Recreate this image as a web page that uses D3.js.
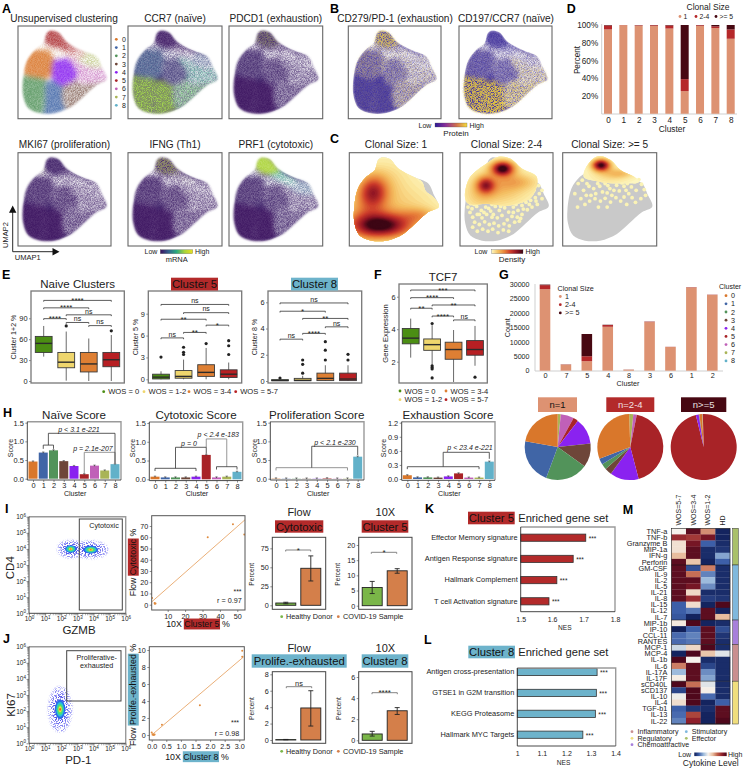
<!DOCTYPE html>
<html><head><meta charset="utf-8">
<style>html,body{margin:0;background:#fff}svg{display:block}text{font-family:"Liberation Sans",Arial,sans-serif;fill:#222}</style>
<script src="https://cdn.jsdelivr.net/npm/d3@7"></script></head><body>
<svg id="c" width="747" height="768" viewBox="0 0 747 768"></svg>
<script>
// ---------- DATA ----------
const clusterIds=[0,1,2,3,4,5,6,7,8];
const clusterColors=['#d9772b','#4065a6','#52935a','#6e4639','#8a22f0','#a82327','#c060b8','#a9b457','#62b1c9'];
const umapOutline=[[150,92],[175,97],[200,125],[245,150],[290,170],[305,200],[320,238],[290,255],[250,290],[215,320],[165,340],[120,340],[85,325],[70,290],[68,250],[80,185],[105,150],[130,130],[140,100]];
const c1Coverage=[[150,92],[175,97],[200,125],[245,150],[272,165],[282,192],[305,210],[322,238],[290,255],[250,290],[215,320],[165,340],[120,340],[85,325],[70,290],[68,250],[80,185],[105,150],[130,130],[140,100]];
const c2Coverage=[[134,110],[169,90],[204,95],[239,125],[284,150],[269,210],[204,235],[134,230],[79,230],[69,210],[79,160],[99,135]];
const c3Coverage=[[131,110],[161,88],[196,100],[226,130],[266,150],[281,165],[226,170],[166,165],[116,150]];
const regionPolys=[
 [[70,175],[105,145],[150,150],[165,180],[160,215],[135,238],[100,232],[65,215]],
 [[135,250],[160,242],[190,262],[198,325],[165,345],[125,345],[130,290]],
 [[60,230],[100,232],[135,240],[135,255],[125,345],[85,335],[60,290]],
 [[190,262],[225,240],[280,250],[325,238],[265,285],[215,325],[198,325]],
 [[165,175],[205,170],[232,215],[225,240],[190,258],[160,240],[155,210]],
 [[135,88],[165,85],[195,110],[205,135],[175,145],[145,138],[125,120]],
 [[205,170],[232,178],[265,200],[310,200],[325,238],[280,250],[232,245],[232,215]],
 [[220,150],[255,158],[300,170],[310,200],[265,200],[232,178]],
 [[120,128],[130,125],[128,142]],
 [[105,145],[125,125],[150,142],[190,155],[235,172],[205,170],[165,175],[150,150]],
 [[195,110],[220,142],[255,165],[235,172],[190,155],[175,145],[205,135]]
];
const sparseClusters=[.2,.25,.25,.6,.2,.3,.7,.8,.3,.9,.55];
const sparseGene=[.22,.08,.08,.42,.3,.15,.62,.72,.4,.85,.62];
const exprCCR7=[.3,.82,.82,.7,.14,.02,.55,.28,.1,.12,.03];
const exprPDCD1=[.06,.01,.01,.05,.05,.05,.05,.05,.05,.05,.04];
const exprMKI67=[.04,.01,.01,.04,.04,.04,.04,.04,.1,.04,.04];
const exprIFNG=[.04,.01,.01,.04,.04,.04,.04,.04,.04,.04,.04];
const exprPRF1=[.05,.01,.01,.05,.05,.86,.05,.3,.3,.1,.55];
const grainCCR7=[.25,.4,.4,.55,0,0,.5,.3,0,0,0];
const grainPDCD1=[0,0,0,0,0,.35,0,0,0,0,0];
const grainMKI67=[0,0,0,0,0,0,0,0,.8,0,0];
const grainIFNG=[0,0,0,0,0,.55,0,0,0,0,.15];
const protPD1=[.34,.12,.12,.5,.3,.85,.5,.4,.3,.5,.35];
const protCCR7=[.12,1,.95,.85,.15,.03,.7,.25,.1,.2,.05];
const peaksC1=[[151,295,66,27,1],[126,195,30,34,.62],[95,250,40,60,.2],[170,150,50,40,.13],[266,265,36,16,.24],[200,230,85,42,.17]];
const peaksC2=[[182,125,23,15,1],[131,175,19,17,.62],[230,165,42,16,.17],[170,180,65,38,.28],[110,215,32,26,.1]];
const peaksC3=[[168,115,18,12,1],[225,140,30,10,.2],[190,145,42,20,.13]];
const dotsC2=[[90,245],[104,238],[118,250],[131,240],[146,252],[160,238],[172,250],[188,242],[200,255],[214,240],[228,250],[240,235],[252,226],[266,220],[280,212],[292,200],[300,215],[286,232],[270,240],[256,248],[240,262],[226,270],[210,268],[196,278],[180,265],[166,272],[150,270],[134,262],[120,272],[106,262],[92,270],[84,256],[98,285],[112,292],[128,284],[142,292],[156,288],[170,296],[186,290],[202,296],[218,285],[232,282],[92,300],[106,312],[122,306],[138,312],[152,306],[168,316],[184,308],[200,312],[86,230],[266,200],[248,210],[276,190],[290,176],[254,195],[230,222],[206,226],[180,228],[150,232],[300,190],[274,170],[78,240],[96,232],[112,262],[126,256],[140,244],[154,262],[176,238],[194,230],[222,232],[244,246],[262,232],[282,222],[214,256],[236,274]];
const dotsC3=[[116,190],[124,205],[132,178],[146,185],[152,200],[164,178],[172,195],[180,170],[194,185],[200,205],[214,175],[222,192],[236,178],[246,170],[258,180],[268,165],[280,158],[272,190],[288,172],[300,205],[296,188],[250,200],[236,210],[226,222],[212,212],[196,225],[180,214],[166,222],[150,215],[134,222],[120,232],[108,215],[98,240],[160,240],[186,240],[244,232],[270,226],[90,200],[100,170],[112,160],[138,205],[206,190],[260,212],[286,215],[126,170],[158,170],[188,176],[230,168],[242,190],[186,198]];
const clonalLabels=['1','2-4','>= 5'];
const clonalColors=['#dd9272','#b5282a','#470812'];
const dClonal=[[95,4.5,.5],[99.8,.2,0],[99.3,.5,.2],[99,.8,.2],[96,3.5,.5],[25.5,13.5,61],[99,.8,.2],[96.5,2,1.5],[84.5,10.5,5]];
const wosLabels=['WOS = 0','WOS = 1-2','WOS = 3-4','WOS = 5-7'];
const wosColors=['#4b8e13','#efd66d','#de7f33','#b71f23'];
const naiveBox=[[35,41,54,64,79],[0.5,19,27,41,71],[0,13,24.5,41,61],[0,20.5,30.5,41,66]];
const naiveOut=[[],[79],[],[72]];
const naiveBr=[[0,3,'****',115.7],[0,2,'****',105],[1,3,'ns',95],[0,1,'****',89.5],[1,2,'ns',84],[2,3,'ns',79.5]];
const c5Box=[[0,.05,.3,.7,1.1],[0,.15,.4,1.2,2.7],[0,.4,.95,2,4.3],[0,.25,.7,1.3,2.3]];
const c5Out=[[3.05],[4.4,3.7,3.4],[4.9],[5.3,4.6,3.4]];
const c5Br=[[0,3,'ns',10.27],[1,3,'ns',9.14],[0,2,'**',8.24],[0,1,'ns',5.68],[1,2,'**',6.43],[2,3,'*',7.43]];
const c8Box=[[0,.02,.04,.1,.1],[0,.02,.05,.2,.4],[0,.03,.2,.6,1.2],[0,.03,.15,.6,1.2]];
const c8Out=[[.23],[.6,1.27,1.6],[1.6,2.35,3],[1.6,2.03]];
const c8Br=[[0,3,'ns',5.95],[0,2,'*',5.32],[1,3,'**',4.77],[1,2,'****',3.63],[2,3,'ns',4.13],[0,1,'ns',3.19]];
const tcfBox=[[2.25,3.1,3.45,4.04,4.65],[1.8,2.7,3.05,3.4,4.25],[.7,2.15,2.75,3.2,3.95],[1.75,2.4,2.75,3.3,4.2]];
const tcfOut=[[],[4.35,1.75,1.65,1.55,1],[],[1.05]];
const tcfBr=[[0,3,'***',6.41],[0,2,'****',5.94],[1,3,'**',5.49],[0,1,'**',5.29],[1,2,'****',4.81],[2,3,'ns',4.57]];
const gOrder=[0,7,5,4,8,3,6,1,2];
const gCounts=[[28200,1400,200],[2100,60,40],[3300,1700,7700],[15200,600,100],[350,30,20],[16800,150,50],[8200,50,10],[28800,100,20],[26200,80,20]];
const pieClusters=[7,6,5,4,3,2,1,0];
const pieN1=[1.5,6.5,2.5,12.8,11.7,20.8,22.2,22.2];
const pieN2=[2,1.7,42.5,14,3.4,2.8,3,30];
const pieN3=[.3,.1,96.6,1.4,.1,.1,.1,1.3];
const naiveScore=[.46,.70,.76,.47,.34,.12,.35,.22,.39];
const cytoScore=[.07,.05,.05,.05,.07,.65,.05,.07,.2];
const prolifScore=[.008,.005,.005,.005,.005,.012,.005,.006,.59];
const exhScore=[.08,.035,.035,.03,.055,.12,.03,.03,.37];
const h1Links=[[[1.5,.9],[1.5,1.216],[8,1.216],[8,.42]],[[1,.8],[1,.9],[2,.9],[2,.8]]];
const h1Grey=[[[5,.14],[5,.707],[8,.707],[8,.42]]];
const h2Links=[[[0,.22],[0,.293],[4,.293],[4,.22]],[[2,.293],[2,.853],[5,.853],[5,.68]],[[6,.26],[6,.336],[8,.336],[8,.26]]];
const h2Grey=[[[5,.853],[5,1.075],[7,1.075],[7,.336]]];
const h3Links=[[[3.5,.295],[3.5,.868],[8,.868],[8,.63]]];
const h3Grey=[[[0,.22],[0,.295],[7,.295],[7,.22]]];
const h4Links=[[[0,.21],[0,.262],[7,.262],[7,.21]],[[3.5,.262],[3.5,.569],[8,.569],[8,.43]]];
const flowBlobsI=[[2.59,3.99,.62,.42],[3.83,3.95,.8,.42]];
const flowBlobsJ=[[1.93,2.11,.55,1.05]];
const scatterI=[[3,1],[2.5,1.5],[1,6],[33,60],[47.5,71.5],[54,62.5],[2.6,.8]];
const fitI=[[.8,2.5],[54.4,75.5]];
const scatterJ=[[.05,0],[.1,.05],[0,.3],[.03,.1],[.35,1.2],[1.65,3.5],[3.1,9.9],[3.1,9.2],[.08,.02]];
const fitJ=[[0,0],[3.15,9.2]];
const donorLabels=['Healthy Donor','COVID-19 Sample'];
const donorColors=['#7ab648','#d47f4a'];
const flowCyto=[3,48.7],flowCytoErr=[[2,4],[32,65]];
const tenX5=[6,11.5],tenX5Err=[[4,8],[10.7,12.2]];
const flowProl=[.05,3.9],flowProlErr=[[.03,.07],[1.7,6]];
const tenX8=[.6,2.8],tenX8Err=[[.4,.85],[2.45,3.1]];
const kTerms=['Effector Memory signature','Antigen Response signature','Hallmark Complement','T cell Activation signature'];
const kNES=[1.707,1.667,1.615,1.59];
const lTerms=['Antigen cross-presentation','GTSE1 in G2M transition','KEGG Proteasome','Hallmark MYC Targets'];
const lNES=[1.325,1.322,1.318,1.267];
const hmCols=['WOS=5-7','WOS=3-4','WOS=1-2','HD'];
const hmRows=['TNF-a','TNF-b','Granzyme B','MIP-1a','IFN-g','Perforin','GM-CSF','IL-9','IL-2','IL-5','IL-21','IL-8','IL-15','IL-12','IL-7','MIP-1b','IP-10','CCL-11','RANTES','MCP-1','MCP-4','IL-1b','IL-6','IL-17A','IL-17F','sCD40L','sCD137','IL-10','IL-4','TGF-b1','IL-13','IL-22'];
const hmValues=[[0,.95,.45,-.95],[.8,.75,.9,-.95],[.1,.9,-.6,-.9],[.1,.95,-.9,-.85],[.3,.95,-.9,-.3],[.95,.25,-.95,-.6],[.95,-.7,.5,-.9],[.95,.55,-.45,-.9],[.95,.95,-.2,-.9],[.95,.9,-.4,-.9],[.95,.15,-.9,-.9],[.95,.8,-.8,-.85],[-.6,.12,-.95,.98],[-.6,-.5,.95,-.95],[-.65,-.95,.95,.3],[.05,.98,-.95,-.9],[-.98,-.6,.95,-.7],[-.55,-.45,.95,-.85],[-.55,-.5,.95,-.9],[-.1,.15,.98,-.9],[-.95,.98,.25,-.05],[.98,0,-.9,-.9],[.5,.95,-.75,-.9],[-.2,.95,-.4,-.9],[.03,.95,-.3,-.9],[.98,.55,-.05,-.9],[-.75,.98,.02,-.9],[-.02,.98,-.55,-.9],[.12,.98,-.95,-.6],[-.6,-.85,-.9,.95],[-.55,.7,-.95,.95],[-.45,.85,-.95,.98]];
const hmGroups=[['Effector',0,6,'#a9c06a'],['Stimulatory',6,15,'#7fb8dd'],['Chemoattractive',15,19,'#a77fdb'],['Inflammatory',19,25,'#c98f8f'],['Regulatory',25,32,'#f0de7d']];

// ---------- HELPERS ----------
const svg=d3.select('#c'),defs=svg.append('defs');
const RED='#b32a2a',TEAL='#6db3cb';
function txt(g,x,y,s,o={}){const t=g.append('text').attr('x',x).attr('y',y).text(s).style('font-size',(o.size||7)+'px').attr('text-anchor',o.a||'start');
 if(o.w)t.style('font-weight',o.w);if(o.i)t.style('font-style','italic');if(o.f)t.style('fill',o.f);if(o.rot!=null)t.attr('transform',`rotate(${o.rot} ${x} ${y})`);return t;}
function grad(id,cols){const g=defs.append('linearGradient').attr('id',id);cols.forEach((c,i)=>g.append('stop').attr('offset',i/(cols.length-1)).attr('stop-color',c));}
function filt(id,inner){const f=defs.append('filter').attr('id',id).attr('x','-20%').attr('y','-20%').attr('width','140%').attr('height','140%').attr('color-interpolation-filters','sRGB');f.html(inner);}
filt('b3','<feGaussianBlur stdDeviation="2.6"/>');filt('b1','<feGaussianBlur stdDeviation="1"/>');filt('b06','<feGaussianBlur stdDeviation=".5"/>');
const spk=(sd,seed,k,t,fr,end)=>`<feGaussianBlur in="SourceGraphic" stdDeviation="${sd}" result="b"/><feTurbulence type="fractalNoise" baseFrequency="${fr}" numOctaves="1" seed="${seed}" result="n"/><feColorMatrix in="n" type="matrix" values="0 0 0 0 0 0 0 0 0 0 0 0 0 0 0 ${k} 0 0 0 ${t}" result="m"/><feComposite in="b" in2="m" operator="in"/><feGaussianBlur stdDeviation="${end}"/>`;
filt('spkW',spk(2.4,3,2.6,-.8,1.3,.5));filt('spkD',spk(2,11,4,-1.25,1.2,.45));filt('spkF',spk(.8,5,8,-3.8,.9,.25));
filt('solidW','<feGaussianBlur stdDeviation="2.6"/>');
grad('gMrna',['#3a0f5e','#35608d','#2aa87f','#a8d33a','#e8e020']);
grad('gProt',['#2a1a96','#8a2f9a','#d0704f','#f5dc3c']);
grad('gDens',['#fdf6c0','#f4c163','#e8853a','#cc3b2a','#8f1424','#3d0614']);
grad('gCyto',['#0e1c55','#3d5fa8','#9dbbdc','#f6f2ec','#e8bd9e','#bf5f48','#8e1f2b','#45051a']);
const mrnaRamp=d3.scaleLinear().domain([0,.35,.6,.85,1]).range(['#3a0f5e','#35608d','#2aa87f','#a8d33a','#e8e020']);
const densRamp=d3.scaleLinear().domain([0,.1,.25,.45,.65,.85,1]).range(['#fdf6c0','#fbe498','#f4bd60','#e8813a','#cc3b2a','#8f1424','#3d0614']);
const hmRamp=d3.scaleLinear().domain([-1,-.6,-.2,0,.3,.6,.85,1]).range(['#0e1c55','#3d5fa8','#9dbbdc','#f6f2ec','#e8bd9e','#bf5f48','#8e1f2b','#45051a']);
function box(g,x0,y0,x1,y1,col,w){g.append('rect').attr('x',x0).attr('y',y0).attr('width',x1-x0).attr('height',y1-y0).attr('fill','none').attr('stroke',col).attr('stroke-width',w);}
function lr(g,x0,y0,x1,y1){
 g.append('path').attr('d',`M${x0},${y0}H${x1}V${y1}`).attr('fill','none').attr('stroke','#9a9a9a').attr('stroke-width',1.4);
 g.append('path').attr('d',`M${x0},${y0}V${y1}H${x1}`).attr('fill','none').attr('stroke','#333').attr('stroke-width',.9);}
function styleAxis(a,size){a.select('.domain').remove();a.selectAll('line').attr('stroke','#444').attr('stroke-width',.6);a.selectAll('text').style('font-size',size+'px');}
function axL(g,s,vals,x,fmt,size=7.4){const a=g.append('g').attr('transform',`translate(${x},0)`).call(d3.axisLeft(s).tickValues(vals).tickSize(2).tickPadding(1.5).tickFormat(fmt||(d=>d)));styleAxis(a,size);return a;}
function axB(g,s,vals,y,fmt,size=7.4){const a=g.append('g').attr('transform',`translate(0,${y})`).call(d3.axisBottom(s).tickValues(vals).tickSize(2).tickPadding(1.5).tickFormat(fmt||(d=>d)));styleAxis(a,size);return a;}
function tag(g,x0,y0,x1,y1,fill,s,size,col){g.append('rect').attr('x',x0).attr('y',y0).attr('width',x1-x0).attr('height',y1-y0).attr('fill',fill);txt(g,(x0+x1)/2,(y0+y1)/2+size*.36,s,{size,a:'middle',f:col||'#111'});}
function mixed(g,x,y,pre,t,post,bg,size,rot){
 const gg=g.append('g').attr('transform',`translate(${x},${y}) rotate(${rot||0})`);
 const tx=txt(gg,0,size*.36,pre+t+post,{size,a:'middle',f:'#111'});
 const n=tx.node(),tot=n.getComputedTextLength(),a=n.getSubStringLength(0,pre.length),b=n.getSubStringLength(pre.length,t.length);
 gg.insert('rect','text').attr('x',-tot/2+a-.5).attr('y',-size*.62).attr('width',b+1).attr('height',size*1.24).attr('fill',bg);}
function legendDot(g,x,y,c,s,size=7,tx){g.append('circle').attr('cx',x).attr('cy',y).attr('r',1.4).attr('fill',c);txt(g,tx==null?x+4.5:tx,y+size*.36,s,{size});}
const closed=d3.line().curve(d3.curveCatmullRomClosed.alpha(.5));
let uid=0;

// ---------- UMAP panels ----------
function umapScales(x0,y0,x1,y1){return {x:d3.scaleLinear().domain([54,333]).range([x0,x1]),y:d3.scaleLinear().domain([78,356]).range([y0,y1])};}
const shape=(s,pts)=>closed(pts.map(p=>[s.x(p[0]),s.y(p[1])]));
function umap(x0,y0,x1,y1,colors,base,sparse,title,grainColor,grainLevels,tx){
 const g=svg.append('g'),s=umapScales(x0,y0,x1,y1),id='m'+(uid++);
 const m=defs.append('mask').attr('id',id).attr('maskUnits','userSpaceOnUse').attr('x',x0).attr('y',y0).attr('width',x1-x0).attr('height',y1-y0);
 m.append('path').attr('d',shape(s,umapOutline)).attr('fill','#fff').attr('filter','url(#b1)');
 const p=g.append('g').attr('mask',`url(#${id})`);
 p.append('path').attr('d',shape(s,umapOutline)).attr('fill',base);
 if(colors){const a=p.append('g').attr('filter','url(#b3)');regionPolys.forEach((r,i)=>a.append('path').attr('d',shape(s,r)).attr('fill',colors[i]));}
 if(grainLevels){const q=p.append('g').attr('filter','url(#spkD)');regionPolys.forEach((r,i)=>q.append('path').attr('d',shape(s,r)).attr('fill',grainColor).attr('opacity',grainLevels[i]));}
 const sw=p.append('g').attr('filter','url(#solidW)');regionPolys.forEach((r,i)=>sw.append('path').attr('d',shape(s,r)).attr('fill','#fff').attr('opacity',sparse[i]*.55));
 const w=p.append('g').attr('filter','url(#spkW)');regionPolys.forEach((r,i)=>w.append('path').attr('d',shape(s,r)).attr('fill','#fff').attr('opacity',sparse[i]));
 box(g,x0,y0,x1,y1,'#666',1.1);
 txt(g,tx==null?(x0+x1)/2:tx,y0-4.5,title,{size:10.1,a:'middle'});
}
const GENE='#43296f',PROT='#3a2a9a',GOLD='#d8b83a',OLIVE='#a8b840';
const umapColors=clusterColors.concat(['#e8d4c0','#a82327']);
const gene=a=>a.map(v=>mrnaRamp(v));
umap(18,26,111,118.7,umapColors,'#fff',sparseClusters,'Unsupervised clustering',null,null,64);
umap(128,26,222,118.7,gene(exprCCR7),GENE,sparseGene,'CCR7 (naïve)',GENE,grainCCR7);
umap(229,26,322.7,118.7,gene(exprPDCD1),GENE,sparseGene,'PDCD1 (exhaustion)',OLIVE,grainPDCD1);
umap(18,152.7,111,246,gene(exprMKI67),GENE,sparseGene,'MKI67 (proliferation)',OLIVE,grainMKI67);
umap(128,152.7,222,246,gene(exprIFNG),GENE,sparseGene,'IFNG (Th1)',OLIVE,grainIFNG);
umap(229,152.7,322.7,246,gene(exprPRF1),GENE,sparseGene,'PRF1 (cytotoxic)');
umap(348.3,26,441,118.7,null,PROT,sparseGene,'CD279/PD-1 (exhaustion)',GOLD,protPD1,395);
umap(459,26,552,118.7,null,PROT,sparseGene,'CD197/CCR7 (naïve)',GOLD,protCCR7,506);
clusterIds.forEach((c,i)=>legendDot(svg,116.3,39.3+i*8.25,clusterColors[c],c,7,122));
svg.append('path').attr('d','M12.7,251.7V210M12.7,251.7H55').attr('fill','none').attr('stroke','#111').attr('stroke-width',.9);
svg.append('path').attr('d','M12.7,205.5L9,212.7H16.4ZM59.5,251.7L52.5,248V255.4Z').attr('fill','#111');
txt(svg,7.5,235,'UMAP2',{size:7.5,a:'middle',rot:-90});txt(svg,27.7,259.5,'UMAP1',{size:7.5,a:'middle'});
function cbar(lowX,x0,x1,y,id,highX,lab,labX,labY){txt(svg,lowX,y+2.5,'Low',{size:7,a:'middle'});
 svg.append('rect').attr('x',x0).attr('y',y-2).attr('width',x1-x0).attr('height',4).attr('fill',`url(#${id})`).attr('stroke','#555').attr('stroke-width',.3);
 txt(svg,highX,y+2.5,'High',{size:7});txt(svg,labX,labY,lab,{size:lab=='mRNA'?7.5:8,a:'middle'});}
cbar(151,160.3,192.7,251.7,'gMrna',195,'mRNA',176.7,262);
cbar(425,435,467,125,'gProt',469.5,'Protein',456,136);
cbar(481,491.7,523,251.7,'gDens',525.5,'Density',512,262);

// ---------- Panel C ----------
function density(x0,y0,x1,y1,peaks,coverage,dots,title){
 const g=svg.append('g'),s=umapScales(x0,y0,x1,y1),id='cl'+(uid++),n=84;
 g.append('path').attr('d',shape(s,umapOutline)).attr('fill','#c9c9c9');
 defs.append('clipPath').attr('id',id).append('path').attr('d',shape(s,coverage));
 (dots||[]).forEach(d=>g.append('circle').attr('cx',s.x(d[0])).attr('cy',s.y(d[1])).attr('r',1.9).attr('fill','#fbf3b5'));
 const c=g.append('g').attr('clip-path',`url(#${id})`);
 c.append('rect').attr('x',x0).attr('y',y0).attr('width',x1-x0).attr('height',y1-y0).attr('fill',densRamp(0));
 const vals=new Float64Array(n*n);
 for(let j=0;j<n;j++)for(let i=0;i<n;i++){const u=54+(i+.5)*279/n,v=78+(j+.5)*278/n;let t=0;peaks.forEach(p=>{t+=p[4]*Math.exp(-((u-p[0])**2/(2*p[2]**2)+(v-p[1])**2/(2*p[3]**2)));});vals[j*n+i]=t;}
 const th=d3.range(.03,1.15,.03),path=d3.geoPath();
 const cg=c.append('g').attr('transform',`translate(${x0},${y0}) scale(${(x1-x0)/n},${(y1-y0)/n})`);
 d3.contours().size([n,n]).thresholds(th)(vals).forEach(ct=>cg.append('path').attr('d',path(ct)).attr('fill',densRamp(Math.min(1,ct.value))));
 box(g,x0,y0,x1,y1,'#666',1.1);
 txt(g,(x0+x1)/2,y0-4.5,title,{size:10.1,a:'middle'});
}
density(349.3,152.7,442.7,246,peaksC1,c1Coverage,null,'Clonal Size: 1');
density(460,152.7,553,246,peaksC2,c2Coverage,dotsC2,'Clonal Size: 2-4');
density(562.7,152.7,656.7,246,peaksC3,c3Coverage,dotsC3,'Clonal Size: >= 5');

// ---------- Panel D ----------
(function(){const g=svg.append('g'),x=d3.scaleLinear().domain([0,8]).range([608,730.7]),y=d3.scaleLinear().domain([0,100]).range([113.75,25]);
 g.append('path').attr('d','M601.7,24V114H737').attr('fill','none').attr('stroke','#cfcfcf').attr('stroke-width',1);
 dClonal.forEach((d,i)=>{let c=0;d.forEach((v,k)=>{g.append('rect').attr('x',x(i)-4).attr('width',8).attr('y',y(c+v)).attr('height',y(c)-y(c+v)).attr('fill',clonalColors[k]);c+=v;});});
 const ay=axL(g,y,[20,40,60,80,100],601.7,d=>d+'%',8.2);ay.selectAll('line').remove();
 const ax=axB(g,x,clusterIds,113.5,null,8.2);ax.selectAll('line').remove();
 txt(g,579.5,60,'Percent',{size:8.2,a:'middle',rot:-90});
 txt(g,672,132,'Cluster',{size:8.4,a:'middle'});
 txt(g,708,10,'Clonal Size',{size:8.5,a:'middle'});
 [[680,'1'],[696,'2-4'],[716,'>= 5']].forEach((e,i)=>legendDot(g,e[0],16.5,clonalColors[i],clonalLabels[i],6.8,e[0]+3.5));
})();

// ---------- Panels E, F ----------
function boxPanel(x0,x1,yT,xr,yd,yr,ticks,stats,outs,brs,ylabel,ylx,lsize){
 const g=svg.append('g'),x=d3.scaleLinear().domain([0,3]).range(xr),y=d3.scaleLinear().domain(yd).range(yr);
 axL(g,y,ticks,x0,null,7.4);
 txt(g,ylx,(yT+383)/2,ylabel,{size:lsize||7.1,a:'middle',rot:-90});
 stats.forEach((b,i)=>{const cx=x(i),f=wosColors[i];
  g.append('line').attr('x1',cx).attr('x2',cx).attr('y1',Math.min(382,y(b[0]))).attr('y2',y(b[4])).attr('stroke','#444').attr('stroke-width',.8);
  g.append('rect').attr('x',cx-8.4).attr('width',16.8).attr('y',y(b[3])).attr('height',Math.max(1,y(b[1])-y(b[3]))).attr('fill',f).attr('stroke','#3a3a3a').attr('stroke-width',.9);
  g.append('line').attr('x1',cx-8.4).attr('x2',cx+8.4).attr('y1',y(b[2])).attr('y2',y(b[2])).attr('stroke','#2b2b2b').attr('stroke-width',1.4);
  outs[i].forEach(v=>g.append('circle').attr('cx',cx).attr('cy',y(v)).attr('r',1.6).attr('fill','#222'));});
 brs.forEach(b=>{const py=y(b[3]);g.append('path').attr('d',`M${x(b[0])},${py+1.3}V${py}H${x(b[1])}V${py+1.3}`).attr('fill','none').attr('stroke','#333').attr('stroke-width',.8);
  txt(g,(x(b[0])+x(b[1]))/2,b[2]=='ns'?py-1.2:py+2.6,b[2],{size:b[2]=='ns'?7:8,a:'middle'});});
 box(g,x0,yT,x1,383,'#777',1.3);
 return g;}
const g1=boxPanel(31,124.3,291,[43.7,111.3],[0,90],[381,318.3],[0,30,60,90],naiveBox,naiveOut,naiveBr,'Cluster 1+2 %',16);
txt(g1,77.7,288,'Naive Clusters',{size:11.5,a:'middle'});
const g2=boxPanel(148.3,241.7,291,[161,228.7],[0,9],[379.3,313.7],[0,3,6,9],c5Box,c5Out,c5Br,'Cluster 5 %',137.5);
tag(g2,171,277.7,218,290.5,RED,'Cluster 5',11.3);
const g3=boxPanel(268,361.7,291,[280,348],[0,6],[381,302.3],[0,2,4,6],c8Box,c8Out,c8Br,'Cluster 8 %',256.5);
tag(g3,291,277.7,338,290.5,TEAL,'Cluster 8',11.3);
const g4=boxPanel(399,487.3,284,[410.7,475],[2,6],[361.7,296.7],[2,4,6],tcfBox,tcfOut,tcfBr,'Gene Expression',388,7.6);
txt(g4,443,281,'TCF7',{size:11.5,a:'middle'});
wosLabels.forEach((l,i)=>legendDot(svg,[103.7,144,189,235.7][i],391.7,wosColors[i],l,7.6));
[[400,391],[400,399.7],[446,391],[446,399.7]].forEach((p,i)=>legendDot(svg,p[0],p[1],wosColors[i],wosLabels[i],7.6));

// ---------- Panel G ----------
(function(){const g=svg.append('g'),x=d3.scalePoint().domain(gOrder).range([545,712.3]),y=d3.scaleLinear().domain([0,30000]).range([370.7,284]);
 g.append('path').attr('d','M535,284V371H723').attr('fill','none').attr('stroke','#cfcfcf').attr('stroke-width',1);
 gOrder.forEach((c,i)=>{let t=0;gCounts[i].forEach((v,k)=>{g.append('rect').attr('x',x(c)-5.3).attr('width',10.6).attr('y',y(t+v)).attr('height',y(t)-y(t+v)).attr('fill',clonalColors[k]);t+=v;});});
 axL(g,y,d3.range(0,30001,5000),533,null,7.1).selectAll('line').remove();
 axB(g,x,gOrder,369,null,7.3).selectAll('line').remove();
 txt(g,510.5,327.7,'Count',{size:7.1,a:'middle',rot:-90});txt(g,628,385.5,'Cluster',{size:7.2,a:'middle'});
 txt(g,557.5,290.5,'Clonal Size',{size:7.2});
 clonalLabels.forEach((l,i)=>legendDot(g,560.3,296.5+i*8.2,clonalColors[i],l,7.2,565));
 txt(g,719,289,'Cluster',{size:7});
 clusterIds.forEach((c,i)=>legendDot(g,726,295.7+i*8.15,clusterColors[c],c,7.2,731));
 const pie=d3.pie().sort(null).value(d=>d),arc=d3.arc().innerRadius(0).outerRadius(33);
 [[557.7,pieN1,0],[630.3,pieN2,-2],[703.7,pieN3,-3]].forEach(p=>{const pg=g.append('g').attr('transform',`translate(${p[0]},447)`);
  pie.startAngle(p[2]*Math.PI/180).endAngle((360+p[2])*Math.PI/180)(p[1]).forEach((a,i)=>pg.append('path').attr('d',arc(a)).attr('fill',clusterColors[pieClusters[i]]));});
 tag(g,538,397.3,577,412,'#dd9272','n=1',9.5);tag(g,606.3,397.3,654.3,412,RED,'n=2-4',9.5,'#f2e2e2');tag(g,681,397.3,726.3,412,'#470812','n>=5',9.5,'#e8e0e0');
})();

// ---------- Panel H ----------
function score(x0,x1,xr,y0,yTop,dMax,ticks,vals,title,tx,lx,links,greys,notes){
 const g=svg.append('g'),x=d3.scaleLinear().domain([0,8]).range(xr),y=d3.scaleLinear().domain([0,dMax]).range([y0,yTop]);
 vals.forEach((v,i)=>{g.append('rect').attr('x',x(i)-4.5).attr('width',9).attr('y',y(v)).attr('height',y0-y(v)).attr('fill',clusterColors[i]);
  g.append('line').attr('x1',x(i)).attr('x2',x(i)).attr('y1',y(v)-.6).attr('y2',y(v)+.6).attr('stroke','#333').attr('stroke-width',.7);
  g.append('line').attr('x1',x(i)-1.2).attr('x2',x(i)+1.2).attr('y1',y(v)-.6).attr('y2',y(v)-.6).attr('stroke','#333').attr('stroke-width',.5);});
 lr(g,x0,yTop-1,x1,y0+1.3);
 axL(g,y,ticks,x0,d3.format('.1f'),7.4);
 const ax=axB(g,x,clusterIds,y0+1.3,null,7.4);ax.selectAll('text').attr('dy','.6em');
 txt(g,(x0+x1)/2+1,496,'Cluster',{size:7.1,a:'middle'});
 txt(g,lx,448,'Score',{size:7,a:'middle',rot:-90});
 txt(g,tx,419,title,{size:11.6,a:'middle'});
 const ln=d3.line().x(d=>x(d[0])).y(d=>y(d[1]));
 greys.forEach(l=>g.append('path').attr('d',ln(l)).attr('fill','none').attr('stroke','#8a8a8a').attr('stroke-width',.9));
 links.forEach(l=>g.append('path').attr('d',ln(l)).attr('fill','none').attr('stroke','#333').attr('stroke-width',.8));
 notes.forEach(n=>txt(g,n[0],n[1],n[2],{size:7,a:'middle',i:1}));
}
score(27.3,121,[33,115],478.7,422.7,1.5,[0,.5,1,1.5],naiveScore,'Naïve Score',74,12.5,h1Links,h1Grey,[[79,431.5,'p < 3.1 e-221'],[93,450.5,'p = 2.1e-207']]);
score(149.3,242.7,[155,237],479.3,423,1.5,[0,.5,1,1.5],cytoScore,'Cytotoxic Score',196,134.5,h2Links,h2Grey,[[189,445.5,'p = 0'],[218.3,437,'p < 2.4 e-183']]);
score(270.3,364,[276,357.7],478.7,422.7,1.5,[0,.5,1,1.5],prolifScore,'Proliferation Score',316.7,256.5,h3Links,h3Grey,[[335,444.5,'p < 2.1 e-230']]);
score(401.7,495,[407.3,489.3],479,422.7,1.2,[0,.3,.6,.9,1.2],exhScore,'Exhaustion Score',448,386,h4Links,[],[[470,450,'p < 23.4 e-221']]);

// ---------- Panels I, J : flow ----------
const flowRamp=[[1.35,'#8d8df4','spkF'],[.85,'#4a4aea','spkF'],[.58,'#2a6ae8','b06'],[.44,'#28c0d8','b06'],[.32,'#4fe070','b06'],[.18,'#e6e63c','b06'],[.08,'#ee3c2c','b06']];
function flowPlot(x0,y0,blobs,gate,gl,xl,yl){const g=svg.append('g'),x=d3.scaleLog().domain([1,1e6]).range([x0,x0+96.7]),y=d3.scaleLog().domain([1,1e6]).range([y0+96.6,y0]);
 const lx=v=>x0+v*96.7/6,ly=v=>y0+96.6-v*96.6/6;
 flowRamp.forEach(r=>blobs.forEach(b=>{g.append('ellipse').attr('cx',lx(b[0])).attr('cy',ly(b[1])).attr('rx',b[2]*r[0]*16.1).attr('ry',b[3]*r[0]*16.1).attr('fill',r[1]).attr('filter',`url(#${r[2]})`);}));
 lr(g,x0,y0,x0+96.7,y0+96.6);
 const dec=d3.range(0,7).map(d=>10**d),minor=[];dec.slice(0,6).forEach(d=>d3.range(2,10).forEach(k=>minor.push(d*k)));
 const sup=a=>{a.selectAll('.tick text').each(function(d){const t=d3.select(this),e=Math.round(Math.log10(d));t.text('10').style('font-size','6.5px');t.append('tspan').attr('dy',-2.5).style('font-size','4.5px').text(e);});};
 [axB(g,x,minor,y0+96.6,()=>''),axL(g,y,minor,x0,()=>'')].forEach(a=>a.selectAll('line').attr('stroke-width',.4));
 const ab=g.append('g').attr('transform',`translate(0,${y0+96.6})`).call(d3.axisBottom(x).tickValues(dec).tickSize(2.5).tickPadding(1).tickFormat(d=>d));styleAxis(ab,6.5);sup(ab);
 const al=g.append('g').attr('transform',`translate(${x0},0)`).call(d3.axisLeft(y).tickValues(dec).tickSize(2.5).tickPadding(.5).tickFormat(d=>d));styleAxis(al,6.5);sup(al);
 box(g,gate[0],gate[1],gate[2],gate[3],'#444',1);
 gl.forEach(l=>txt(g,l[0],l[1],l[2],{size:7.2,a:'middle'}));
 txt(g,xl[0],xl[1],xl[2],{size:11.5,a:'middle'});txt(g,yl[0],yl[1],yl[2],{size:11.5,a:'middle',rot:-90});}
flowPlot(29,516.7,flowBlobsI,[79.3,519,122.3,610],[[104,527.5,'Cytotoxic']],[79,634,'GZMB'],[14.5,567.7,'CD4']);
flowPlot(29,646.7,flowBlobsJ,[66.7,650.7,121,701],[[96.7,659.5,'Proliferative-'],[96.7,668,'exhausted']],[78.3,764,'PD-1'],[14.5,705,'KI67']);

// ---------- scatter ----------
function scatter(x0,y0,x1,y1,dx,xr,dy,yr,xt,yt,pts,fit,r,fmtx,xl,yl,starX,starY,rX,rY){const g=svg.append('g'),x=d3.scaleLinear().domain(dx).range(xr),y=d3.scaleLinear().domain(dy).range(yr);
 const clip='sc'+(uid++);defs.append('clipPath').attr('id',clip).append('rect').attr('x',x0).attr('y',y0).attr('width',x1-x0).attr('height',y1-y0);
 const c=g.append('g').attr('clip-path',`url(#${clip})`);
 c.append('path').attr('d',d3.line().x(d=>x(d[0])).y(d=>y(d[1]))(fit)).attr('fill','none').attr('stroke','#e59a55').attr('stroke-width',.8);
 pts.forEach(p=>c.append('circle').attr('cx',x(p[0])).attr('cy',y(p[1])).attr('r',1).attr('fill','#e08a3c'));
 box(g,x0,y0,x1,y1,'#555',1);
 axL(g,y,yt,x0,null,7.2);axB(g,x,xt,y1,fmtx,7.2);
 txt(g,starX,starY,'***',{size:7,a:'middle'});txt(g,rX,rY,r,{size:7.2,a:'end'});
 mixed(g,xl[0],xl[1],xl[2],xl[3],xl[4],xl[5],8.8);mixed(g,yl[0],yl[1],yl[2],yl[3],yl[4],yl[5],8.8,-90);}
scatter(151.7,515.7,245,610,[10,50],[167.7,237.3],[0,70],[604.7,526],[10,20,30,40,50],[0,10,20,30,40,50,60,70],scatterI,fitI,'r = 0.97',null,[198,624,'10X ','Cluster 5',' %',RED],[133.3,562.5,'Flow ','Cytotoxic',' %',RED],237.5,594,241.7,603);
scatter(149.3,646.7,244.3,740,[0,3],[151.7,239.3],[0,10],[735,650],[0,.5,1,1.5,2,2.5,3],[0,2,4,6,8,10],scatterJ,fitJ,'r = 0.98',d3.format('.1f'),[197,756.7,'10X ','Cluster 8',' %',TEAL],[133.3,695,'Flow ','Prolife.-exhausted',' %',TEAL],235,725,239.3,736);

// ---------- small bars ----------
function barPanel(x0,x1,yT,yB,dMax,yr,ticks,vals,errs,brX,brY,lab,t1,tagBox,t2,tc,y1,lx){const g=svg.append('g'),y=d3.scaleLinear().domain([0,dMax]).range(yr);
 const bw=20,cx=[x0+3.5+bw/2,x0+28.5+bw/2];
 vals.forEach((v,i)=>{g.append('rect').attr('x',cx[i]-bw/2).attr('width',bw).attr('y',y(v)).attr('height',y(0)-y(v)).attr('fill',donorColors[i]).attr('stroke','#222').attr('stroke-width',.9);
  const e=errs[i];g.append('path').attr('d',`M${cx[i]},${y(e[0])}V${y(e[1])}M${cx[i]-2.5},${y(e[0])}h5M${cx[i]-2.5},${y(e[1])}h5`).attr('stroke','#222').attr('stroke-width',.9).attr('fill','none');});
 box(g,x0,yT,x1,yB,'#444',1);
 axL(g,y,ticks,x0,null,7.2);
 txt(g,lx,(yT+yB)/2+1,'Percent',{size:6.6,a:'middle',rot:-90});
 g.append('path').attr('d',`M${brX[0]},${brY+1.5}V${brY}H${brX[1]}V${brY+1.5}`).attr('fill','none').attr('stroke','#777').attr('stroke-width',.9);
 txt(g,(brX[0]+brX[1])/2,lab=='ns'?brY-1.2:brY+2.6,lab,{size:lab=='ns'?7.4:8,a:'middle'});
 txt(g,(x0+x1)/2,y1,t1,{size:11,a:'middle'});
 tag(g,tagBox[0],tagBox[1],tagBox[2],tagBox[3],tc,t2,11.3);}
barPanel(272.3,325.7,537.3,609.3,75,[605.3,548.3],[0,25,50,75],flowCyto,flowCytoErr,[285.7,310.7],550,'*','Flow',[275,520.3,323.3,532.7],'Cytotoxic',RED,516,254);
barPanel(358.7,412,537.3,609.3,20,[605.7,545],[0,5,10,15,20],tenX5,tenX5Err,[371.3,396.7],552.3,'*','10X',[361.7,520.3,408.3,532.7],'Cluster 5',RED,516,340.5);
barPanel(272.3,325.7,671.7,743.3,8,[740,674.3],[0,2,4,6,8],flowProl,flowProlErr,[286.3,311.7],686.7,'ns','Flow',[251.7,654.3,346.7,667.7],'Prolife.-exhausted',TEAL,651.5,254);
barPanel(358.7,412,671.7,743.3,6,[740.3,677],[0,2,4,6],tenX8,tenX8Err,[372,397.3],692.7,'****','10X',[361.7,654.3,408.3,667.7],'Cluster 8',TEAL,651.5,340.5);
[616.7,751.3].forEach(y=>{legendDot(svg,281.7,y,donorColors[0],donorLabels[0],7.3,286);legendDot(svg,338.3,y,donorColors[1],donorLabels[1],7.3,343);});

// ---------- K, L ----------
function nes(x0,x1,yT,yB,dom,xr,ticks,terms,vals,ys,col,labR,tagBox,tagText,titleX,titleY,fmt,tickY,nesY){const g=svg.append('g'),x=d3.scaleLinear().domain(dom).range(xr),y=d3.scalePoint().domain(terms).range([ys[0],ys[1]]);
 terms.forEach((t,i)=>{g.append('rect').attr('x',x0).attr('y',y(t)-3.6).attr('width',x(vals[i])-x0).attr('height',7.2).attr('fill',col).attr('stroke','#333').attr('stroke-width',.8);
  txt(g,labR,y(t)+2.3,t,{size:7.4,a:'end'});txt(g,x(vals[i])+3,y(t)+2.8,'***',{size:6.5});});
 lr(g,x0,yT,x1,yB);
 const a=axB(g,x,ticks,tickY,fmt,7);a.selectAll('line').remove();
 txt(g,(x0+x1)/2-3,nesY,'NES',{size:6.6,a:'middle'});
 tag(g,tagBox[0],tagBox[1],tagBox[2],tagBox[3],col==RED?RED:TEAL,tagText,11.3);
 txt(g,titleX,titleY,'Enriched gene set',{size:11.2});}
nes(520.7,615,527,611.7,[1.5,1.8],[520.7,615],[1.5,1.6,1.7,1.8],kTerms,kNES,[537.7,601.3],RED,517.7,[468,511.7,514.7,524.3],'Cluster 5',518.2,521.8,d3.format('.1f'),614,630);
nes(517.3,615.7,668,746,[1,1.4],[517.3,615.5],[1,1.1,1.2,1.3,1.4],lTerms,lNES,[672,734.7],TEAL,514.3,[468.3,645.7,515,658.3],'Cluster 8',518.2,655.8,d=>d==1?'1':d3.format('.1f')(d),748,765);

// ---------- M ----------
(function(){const g=svg.append('g'),x=d3.scaleBand().domain(hmCols).range([671.3,730]),y=d3.scaleBand().domain(hmRows).range([528.3,724]);
 hmRows.forEach((r,j)=>hmCols.forEach((c,i)=>g.append('rect').attr('x',x(c)).attr('y',y(r)).attr('width',x.bandwidth()+.2).attr('height',y.bandwidth()+.2).attr('fill',hmRamp(hmValues[j][i]))));
 hmGroups.forEach(h=>{const t=y(hmRows[h[1]]),b=y(hmRows[h[2]-1])+y.bandwidth();
  g.append('rect').attr('x',732.7).attr('y',t).attr('width',5.6).attr('height',b-t).attr('fill',h[3]).attr('stroke','#333').attr('stroke-width',.5);
  g.append('line').attr('x1',671.3).attr('x2',730).attr('y1',b).attr('y2',b).attr('stroke','#111').attr('stroke-width',.5);});
 box(g,671.3,528.3,730,724,'#222',.6);
 hmRows.forEach(r=>txt(g,667.3,y(r)+y.bandwidth()/2+2.6,r,{size:7.3,a:'end'}));
 hmCols.forEach(c=>txt(g,x(c)+x.bandwidth()/2+2.5,525.5,c,{size:7,rot:-90}));
 const cols=Object.fromEntries(hmGroups.map(h=>[h[0],h[3]]));
 [['Inflammatory',632,731.7],['Stimulatory',686.3,731.7],['Regulatory',632,738.3],['Effector',686.3,738.3],['Chemoattractive',632,744.7]].forEach(e=>legendDot(g,e[1],e[2],cols[e[0]],e[0],7.1,e[1]+5.5));
 txt(g,684.7,757,'Low',{size:7,a:'middle'});g.append('rect').attr('x',694.3).attr('y',752.5).attr('width',32.4).attr('height',3.6).attr('fill','url(#gCyto)');
 txt(g,728,757,'High',{size:7});txt(g,710.7,765.5,'Cytokine Level',{size:8.5,a:'middle'});
})();

// ---------- panel letters ----------
[['A',2,13],['B',330,13],['C',330,143],['D',566.7,13],['E',2,279],['F',374,279],['G',499,279],['H',3,417],['I',5,513],['J',3,643],['K',425,513],['L',424,644],['M',622.7,514]].forEach(l=>txt(svg,l[1],l[2],l[0],{size:12.5,w:'bold',f:'#000'}));
</script></body></html>
